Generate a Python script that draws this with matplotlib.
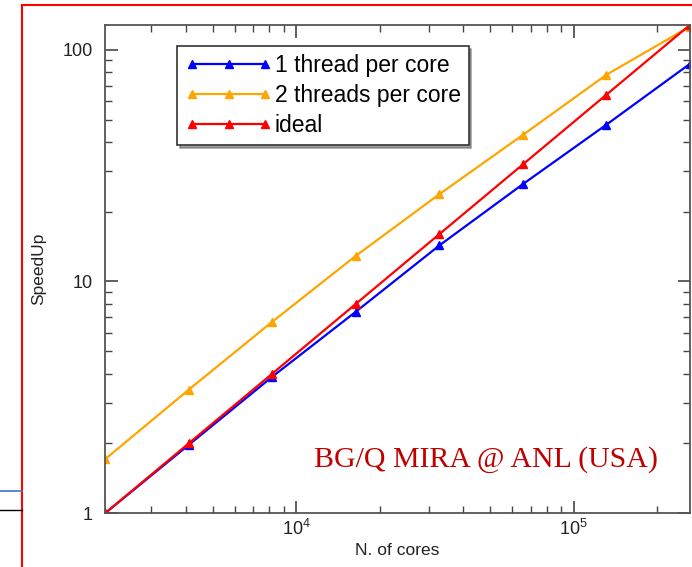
import numpy as np
import matplotlib
matplotlib.use('Agg')
from matplotlib import pyplot as plt
from matplotlib.lines import Line2D
from matplotlib.patches import Rectangle

plt.rcParams['font.family'] = ['Liberation Sans', 'DejaVu Sans']

cores = [2048, 4096, 8192, 16384, 32768, 65536, 131072, 262144]
one_thread = [1.0, 1.97, 3.88, 7.4, 14.3, 26.3, 47.5, 87]
two_threads = [1.71, 3.41, 6.7, 12.9, 23.8, 42.9, 78, 126]
ideal = [1, 2, 4, 8, 16, 32, 64, 128]

labels = ['1 thread per core', '2 threads per core', 'ideal']
colors = ['#0000ff', '#ffa500', '#ff0000']

fig = plt.figure(figsize=(6.92, 5.67), dpi=100)
ax = fig.add_axes([0.152, 0.095, 0.845, 0.861])

for series, lab, col in zip([one_thread, two_threads, ideal], labels, colors):
    ax.plot(cores, series, color=col, lw=1.6, marker='^', ms=6, label=lab)

ax.set_xscale('log')
ax.set_yscale('log')
ax.set_xlim(2048, 262144)
ax.set_ylim(1, 128)
ax.set_yticks([1, 10, 100])
ax.set_yticklabels(['1', '10', '100'])
ax.tick_params(which='both', direction='in', top=True, right=True, color='#444444',
               labelsize=13, labelcolor='#222222')
ax.tick_params(which='major', length=9, width=1.2)
ax.tick_params(which='minor', length=5, width=1.0)
ax.tick_params(axis='y', which='major', pad=9)
ax.tick_params(axis='x', which='major', pad=4)
for s in ax.spines.values():
    s.set_color('#555555')
    s.set_linewidth(1.3)

ax.set_xlabel('N. of cores', fontsize=12.5, color='#222222', labelpad=3)
ax.set_ylabel('SpeedUp', fontsize=12.5, color='#222222', labelpad=12)

leg = ax.legend(loc='upper left', bbox_to_anchor=(0.123, 0.957), borderaxespad=0,
                fontsize=16.5, numpoints=3, handlelength=3.8, handletextpad=0.1,
                fancybox=False, shadow=True, framealpha=1, edgecolor='#333333',
                labelspacing=0.3, borderpad=0.35)
leg.get_frame().set_linewidth(1.2)

ax.text(0.945, 0.11, 'BG/Q MIRA @ ANL (USA)', transform=ax.transAxes, ha='right', va='center',
        fontsize=21.5, color='#c00000', family='Liberation Serif')

# slide decorations around the chart
fig.add_artist(Rectangle((22 / 692, -0.05), 1.2, 1 - 5 / 567 + 0.05, transform=fig.transFigure,
                         fill=False, edgecolor='#ff0000', lw=1.5))
fig.add_artist(Line2D([0, 22 / 692], [1 - 491 / 567] * 2, color='#4472c4', lw=1.2))
fig.add_artist(Line2D([0, 22 / 692], [1 - 510 / 567] * 2, color='#000000', lw=1.0))

fig.savefig('out.png', dpi=100)
